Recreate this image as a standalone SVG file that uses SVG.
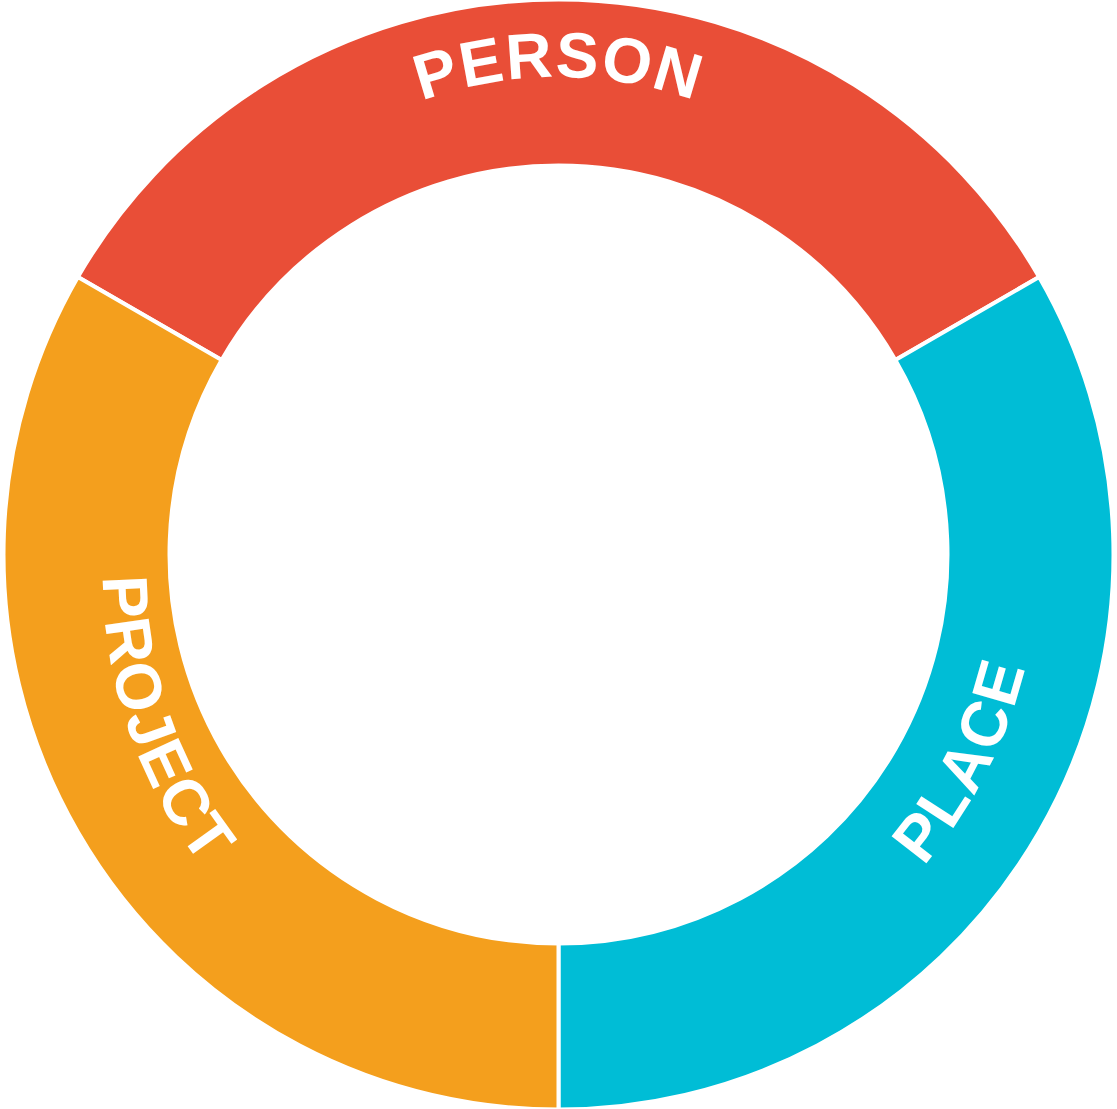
<svg xmlns="http://www.w3.org/2000/svg" xmlns:xlink="http://www.w3.org/1999/xlink" width="1117" height="1109" viewBox="0 0 1117 1109">
  <defs>
    <style>
      .seg { stroke: #FFFFFF; stroke-width: 4; stroke-linejoin: miter; }
      .lbl { font-family: "Liberation Sans", Arial, sans-serif; font-weight: bold; font-size: 64px; fill: #FFFFFF; text-anchor: middle; }
    </style>
    <path id="arcPerson" d="M 179.8 342.2 A 403 403 0 0 1 937.2 342.2" fill="none"/>
    <path id="arcPlace" d="M 706.83 1011.01 A 480 480 0 0 0 1015.01 406.17" fill="none"/>
    <path id="arcProject" d="M 150.57 370.97 A 470 470 0 0 0 366.97 999.43" fill="none"/>
  </defs>
  <rect x="0" y="0" width="1117" height="1109" fill="#FFFFFF"/>
  <g id="person">
    <path class="seg" fill="#E94E37" d="M 77.86 277 A 555 555 0 0 1 1039.14 277 L 895.38 360 A 389 389 0 0 0 221.62 360 Z"/>
    <text class="lbl" letter-spacing="1.5"><textPath xlink:href="#arcPerson" href="#arcPerson" startOffset="50%">PERSON</textPath></text>
  </g>
  <g id="place">
    <path class="seg" fill="#00BDD6" d="M 1039.14 277 A 555 555 0 0 1 558.5 1109.5 L 558.5 943.5 A 389 389 0 0 0 895.38 360 Z"/>
    <text class="lbl" letter-spacing="2"><textPath xlink:href="#arcPlace" href="#arcPlace" startOffset="50%">PLACE</textPath></text>
  </g>
  <g id="project">
    <path class="seg" fill="#F49F1D" d="M 558.5 1109.5 A 555 555 0 0 1 77.86 277 L 221.62 360 A 389 389 0 0 0 558.5 943.5 Z"/>
    <text class="lbl" letter-spacing="1.5"><textPath xlink:href="#arcProject" href="#arcProject" startOffset="50%">PROJECT</textPath></text>
  </g>
</svg>
